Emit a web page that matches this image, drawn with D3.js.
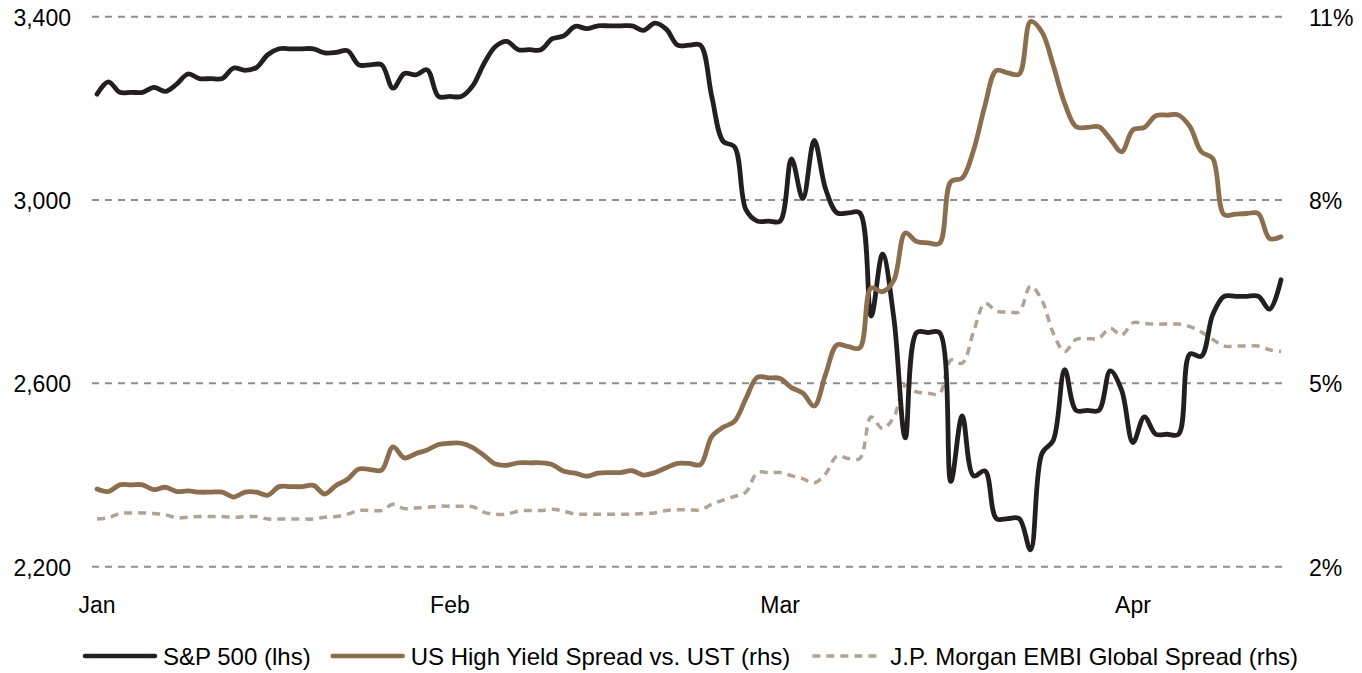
<!DOCTYPE html>
<html>
<head>
<meta charset="utf-8">
<script src="https://cdn.jsdelivr.net/npm/d3@7"></script>
<style>
  body { margin: 0; background: #fff; }
  text { font-family: "Liberation Sans", Arial, sans-serif; fill: #000; }
</style>
</head>
<body>
<script>
const width = 1362;
const height = 673;

// daily series, Jan 1 to Apr 14 2020 (weekends/holidays carry the last value)
const startDate = new Date(2020, 0, 1);
const endDate = new Date(2020, 3, 14);

const spx = [
    3231, 3258, 3235, 3235, 3235, 3246, 3237,
    3253, 3275, 3265, 3265, 3265, 3288, 3283,
    3289, 3317, 3330, 3330, 3330, 3330, 3321,
    3322, 3326, 3295, 3295, 3295, 3244, 3276,
    3273, 3284, 3226, 3226, 3226, 3249, 3298,
    3335, 3346, 3328, 3328, 3328, 3352, 3358,
    3379, 3374, 3380, 3380, 3380, 3380, 3370,
    3386, 3373, 3338, 3338, 3338, 3226, 3128,
    3116, 2979, 2954, 2954, 2954, 3090, 3003,
    3130, 3024, 2972, 2972, 2972, 2747, 2882,
    2741, 2481, 2711, 2711, 2711, 2386, 2529,
    2398, 2409, 2305, 2305, 2305, 2237, 2447,
    2476, 2630, 2541, 2541, 2541, 2627, 2585,
    2471, 2527, 2489, 2489, 2489, 2664, 2659,
    2750, 2790, 2790, 2790, 2790, 2762, 2826
];

const hySpread = [
    3.27, 3.23, 3.34, 3.34, 3.34, 3.26, 3.30,
    3.23, 3.24, 3.22, 3.22, 3.22, 3.14, 3.22,
    3.22, 3.17, 3.31, 3.31, 3.31, 3.33, 3.19,
    3.33, 3.43, 3.60, 3.59, 3.58, 3.96, 3.78,
    3.85, 3.91, 4.00, 4.02, 4.02, 3.95, 3.82,
    3.68, 3.66, 3.70, 3.70, 3.70, 3.67, 3.56,
    3.53, 3.48, 3.53, 3.54, 3.54, 3.57, 3.50,
    3.54, 3.62, 3.69, 3.69, 3.67, 4.13, 4.28,
    4.38, 4.75, 5.10, 5.09, 5.08, 4.93, 4.84,
    4.63, 5.15, 5.63, 5.60, 5.58, 6.56, 6.50,
    6.69, 7.46, 7.32, 7.30, 7.29, 8.30, 8.36,
    8.82, 9.55, 10.12, 10.08, 10.06, 10.92, 10.75,
    10.20, 9.58, 9.20, 9.19, 9.20, 9.00, 8.79,
    9.15, 9.19, 9.38, 9.39, 9.39, 9.20, 8.79,
    8.68, 7.76, 7.77, 7.78, 7.78, 7.37, 7.40
];

const embiSpread = [
    2.78, 2.80, 2.87, 2.88, 2.88, 2.87, 2.85,
    2.80, 2.81, 2.82, 2.82, 2.82, 2.81, 2.82,
    2.82, 2.78, 2.78, 2.78, 2.78, 2.78, 2.81,
    2.82, 2.86, 2.92, 2.92, 2.92, 3.02, 2.95,
    2.96, 2.97, 2.99, 2.99, 2.99, 2.98, 2.89,
    2.86, 2.86, 2.91, 2.92, 2.92, 2.94, 2.91,
    2.86, 2.86, 2.86, 2.86, 2.86, 2.86, 2.87,
    2.88, 2.92, 2.93, 2.93, 2.93, 3.02, 3.09,
    3.15, 3.22, 3.54, 3.54, 3.54, 3.49, 3.44,
    3.37, 3.52, 3.81, 3.77, 3.77, 4.45, 4.26,
    4.45, 4.97, 4.86, 4.84, 4.83, 5.38, 5.33,
    5.85, 6.31, 6.18, 6.17, 6.17, 6.59, 6.36,
    5.82, 5.52, 5.72, 5.73, 5.74, 5.90, 5.79,
    5.99, 5.98, 5.97, 5.97, 5.97, 5.93, 5.84,
    5.72, 5.61, 5.61, 5.61, 5.61, 5.55, 5.52
];

const leftTicks = [2200, 2600, 3000, 3400];
const rightTicks = [2, 5, 8, 11];
const monthTicks = [new Date(2020, 0, 1), new Date(2020, 1, 1), new Date(2020, 2, 1), new Date(2020, 3, 1)];

const seriesNames = ["S&P 500 (lhs)", "US High Yield Spread vs. UST (rhs)", "J.P. Morgan EMBI Global Spread (rhs)"];

const days = d3.timeDay.range(startDate, d3.timeDay.offset(endDate, 1));

const svg = d3.select("body").append("svg")
    .attr("width", width)
    .attr("height", height);

const x = d3.scaleTime().domain([startDate, endDate]).range([97, 1281]);
const yLeft = d3.scaleLinear().domain([2200, 3400]).range([566.7, 16.7]);
const yRight = d3.scaleLinear().domain([2, 11]).range([566.7, 16.7]);

// gridlines
svg.append("g").selectAll("line")
    .data(leftTicks)
    .join("line")
    .attr("x1", 92)
    .attr("x2", 1282)
    .attr("y1", d => yLeft(d))
    .attr("y2", d => yLeft(d))
    .attr("stroke", "#8b8e92")
    .attr("stroke-width", 2)
    .attr("stroke-dasharray", "7,6");

// left axis labels
svg.append("g").selectAll("text")
    .data(leftTicks)
    .join("text")
    .attr("x", 71)
    .attr("y", d => yLeft(d) + 9)
    .attr("text-anchor", "end")
    .attr("font-size", "23px")
    .text(d => d3.format(",")(d));

// right axis labels
svg.append("g").selectAll("text")
    .data(rightTicks)
    .join("text")
    .attr("x", 1309)
    .attr("y", d => yRight(d) + 9)
    .attr("font-size", "23px")
    .text(d => d + "%");

// month labels
svg.append("g").selectAll("text")
    .data(monthTicks)
    .join("text")
    .attr("x", d => x(d))
    .attr("y", 613)
    .attr("text-anchor", "middle")
    .attr("font-size", "23px")
    .text(d => d3.timeFormat("%b")(d));

const curve = d3.curveCatmullRom.alpha(0.5);

const embiStyle = { color: "#b0a294", width: 3.5, dash: "8,6" };

const lineSeries = [
    { values: embiSpread, scale: yRight, color: embiStyle.color, width: embiStyle.width, dash: embiStyle.dash },
    { values: spx, scale: yLeft, color: "#231f20", width: 4.8, dash: null },
    { values: hySpread, scale: yRight, color: "#8b6e4d", width: 4.8, dash: null }
];

lineSeries.forEach(s => {
    const line = d3.line()
        .x((d, i) => x(days[i]))
        .y(d => s.scale(d))
        .curve(curve);

    svg.append("path")
        .datum(s.values)
        .attr("d", line)
        .attr("fill", "none")
        .attr("stroke", s.color)
        .attr("stroke-width", s.width)
        .attr("stroke-linejoin", "round")
        .attr("stroke-linecap", s.dash ? "butt" : "round")
        .attr("stroke-dasharray", s.dash);
});

// legend
const legendItems = [
    { name: seriesNames[0], color: "#231f20", width: 4.5, dash: null },
    { name: seriesNames[1], color: "#8b6e4d", width: 4.5, dash: null },
    { name: seriesNames[2], color: embiStyle.color, width: 3.5, dash: "8,6" }
];

let lx = 85;
const ly = 656;
legendItems.forEach(item => {
    svg.append("line")
        .attr("x1", lx)
        .attr("x2", lx + 70)
        .attr("y1", ly)
        .attr("y2", ly)
        .attr("stroke", item.color)
        .attr("stroke-width", item.width)
        .attr("stroke-linecap", item.dash ? "butt" : "round")
        .attr("stroke-dasharray", item.dash);

    const t = svg.append("text")
        .attr("x", lx + 78)
        .attr("y", ly + 8.5)
        .attr("font-size", "24px")
        .text(item.name);

    lx = lx + 78 + t.node().getComputedTextLength() + 22;
});
</script>
</body>
</html>
